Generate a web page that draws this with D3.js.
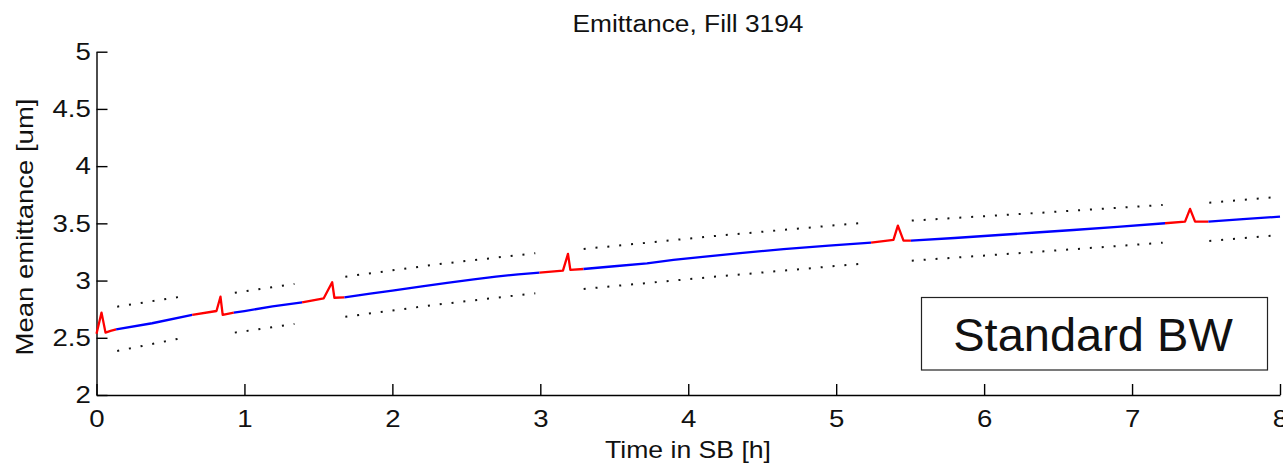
<!DOCTYPE html>
<html>
<head>
<meta charset="utf-8">
<script src="https://cdn.jsdelivr.net/npm/d3@7"></script>
<style>
  body { margin: 0; background: #fff; }
  text { font-family: "Liberation Sans", Arial, sans-serif; fill: #111; }
</style>
</head>
<body>
<div class="Chart"></div>
<script>
// emittance trace, hours in stable beams
var hours = [0.00, 0.034, 0.061, 0.095, 0.133, 0.376, 0.647, 0.811, 0.838, 0.853, 0.928,
	1.00, 1.19, 1.39, 1.536, 1.593, 1.608, 1.676, 1.85, 2.00, 2.20, 2.37, 2.55, 2.70, 2.85, 2.995,
	3.153, 3.187, 3.203, 3.292, 3.50, 3.721, 3.90, 4.081, 4.35, 4.644, 4.95, 5.236,
	5.387, 5.417, 5.455, 5.505, 5.80, 6.10, 6.35, 6.603, 6.90, 7.223,
	7.358, 7.392, 7.426, 7.516, 7.75, 8.00];
var emittance = [2.535, 2.72, 2.545, 2.56, 2.574, 2.627, 2.70, 2.734, 2.859, 2.70, 2.719,
	2.733, 2.775, 2.81, 2.845, 2.985, 2.85, 2.854, 2.885, 2.912, 2.95, 2.98, 3.01, 3.035, 3.055, 3.069,
	3.087, 3.233, 3.093, 3.101, 3.125, 3.151, 3.18, 3.205, 3.24, 3.274, 3.305, 3.331,
	3.355, 3.48, 3.349, 3.349, 3.372, 3.398, 3.42, 3.442, 3.47, 3.501,
	3.515, 3.626, 3.515, 3.515, 3.537, 3.559];
// r = transition (red), b = standard (blue); colour of the piece starting at that point
var phase = ["r","r","r","r","b","b","r","r","r","r","b",
	"b","b","r","r","r","r","b","b","b","b","b","b","b","b","r",
	"r","r","r","b","b","b","b","b","b","b","b","r",
	"r","r","r","b","b","b","b","b","b","r",
	"r","r","r","b","b","b"];

// dotted bounds, one sub-array per block
var bandHours = [[0.14, 0.613], [0.935, 1.338], [1.682, 2.32, 2.966], [3.293, 4.2, 5.151], [5.511, 6.35, 7.207], [7.522, 8.0]];
var bandUpper = [[2.772, 2.868], [2.894, 2.970], [3.034, 3.145, 3.239], [3.276, 3.392, 3.501], [3.524, 3.59, 3.661], [3.681, 3.733]];
var bandLower = [[2.385, 2.507], [2.545, 2.621], [2.684, 2.793, 2.889], [2.927, 3.036, 3.145], [3.174, 3.25, 3.331], [3.346, 3.399]];

var xTicks = [0, 1, 2, 3, 4, 5, 6, 7, 8];
var xTickLabels = ["0", "1", "2", "3", "4", "5", "6", "7", "8"];
var yTicks = [2, 2.5, 3, 3.5, 4, 4.5, 5];
var yTickLabels = ["2", "2.5", "3", "3.5", "4", "4.5", "5"];

var title = "Emittance, Fill 3194";
var xLabel = "Time in SB [h]";
var yLabel = "Mean emittance [um]";
var legendLabel = "Standard BW";

var width = 1283,
	height = 467;

var x = d3.scaleLinear().domain([0, 8]).range([96.5, 1280]);
var y = d3.scaleLinear().domain([2, 5]).range([395, 51.7]);

var svg = d3.select(".Chart").append("svg")
	.attr("width", width)
	.attr("height", height)
	.style("display", "block");

svg.append("rect").attr("width", width).attr("height", height).attr("fill", "#fff");

// axes, matlab style ticks pointing inward
var xAxis = svg.append("g")
	.attr("transform", "translate(0," + y(2) + ")")
	.call(d3.axisBottom(x).tickValues(xTicks).tickSize(-11).tickSizeOuter(0).tickPadding(15)
		.tickFormat(function(d, i) { return xTickLabels[i]; }));

var yAxis = svg.append("g")
	.attr("transform", "translate(" + x(0) + ",0)")
	.call(d3.axisLeft(y).tickValues(yTicks).tickSize(-11).tickSizeOuter(0).tickPadding(5)
		.tickFormat(function(d, i) { return yTickLabels[i]; }));

[xAxis, yAxis].forEach(function(g) {
	g.select(".domain").attr("stroke", "#000").attr("stroke-width", 1.4);
	g.selectAll(".tick line").attr("stroke", "#000").attr("stroke-width", 1.4);
	g.selectAll(".tick text")
		.style("font-family", "'Liberation Sans', Arial, sans-serif")
		.style("font-size", "24px")
		.attr("fill", "#111");
});
xAxis.selectAll(".tick text").attr("transform", "scale(1.15,1)");
yAxis.selectAll(".tick text").attr("x", -5).attr("transform", "scale(1.15,1)");

// dotted bounds
var band = d3.line()
	.x(function(d) { return x(d[0]); })
	.y(function(d) { return y(d[1]); });

bandHours.forEach(function(hs, k) {
	[bandUpper[k], bandLower[k]].forEach(function(vals) {
		svg.append("path")
			.datum(hs.map(function(h, i) { return [h, vals[i]]; }))
			.attr("d", band)
			.attr("fill", "none")
			.attr("stroke", "#111")
			.attr("stroke-width", 2)
			.attr("stroke-dasharray", "2,9.9");
	});
});

// emittance trace, split into coloured pieces
var pieces = [];
for (var i = 0; i < hours.length - 1; i++) {
	var last = pieces[pieces.length - 1];
	if (!last || last.c !== phase[i]) {
		last = { c: phase[i], pts: [[hours[i], emittance[i]]] };
		pieces.push(last);
	}
	last.pts.push([hours[i + 1], emittance[i + 1]]);
}

svg.selectAll(".trace")
	.data(pieces)
	.enter().append("path")
	.attr("class", "trace")
	.attr("d", function(d) { return band(d.pts); })
	.attr("fill", "none")
	.attr("stroke", function(d) { return d.c === "r" ? "#ff0000" : "#0000ff"; })
	.attr("stroke-width", 2.3)
	.attr("stroke-linejoin", "round");

// title and labels
svg.append("text")
	.attr("x", 688).attr("y", 31.5)
	.attr("text-anchor", "middle")
	.attr("textLength", 231).attr("lengthAdjust", "spacingAndGlyphs")
	.style("font-size", "23px")
	.text(title);

svg.append("text")
	.attr("x", 688).attr("y", 458)
	.attr("text-anchor", "middle")
	.attr("textLength", 166).attr("lengthAdjust", "spacingAndGlyphs")
	.style("font-size", "24px")
	.text(xLabel);

svg.append("text")
	.attr("transform", "translate(33,227) rotate(-90)")
	.attr("text-anchor", "middle")
	.attr("textLength", 257).attr("lengthAdjust", "spacingAndGlyphs")
	.style("font-size", "24px")
	.text(yLabel);

// legend box
svg.append("rect")
	.attr("x", 921.5).attr("y", 297.5)
	.attr("width", 346).attr("height", 72.5)
	.attr("fill", "#fff")
	.attr("stroke", "#222")
	.attr("stroke-width", 1.2);

svg.append("text")
	.attr("x", 1093).attr("y", 351)
	.attr("text-anchor", "middle")
	.style("font-size", "47px")
	.attr("fill", "#222")
	.text(legendLabel);
</script>
</body>
</html>
